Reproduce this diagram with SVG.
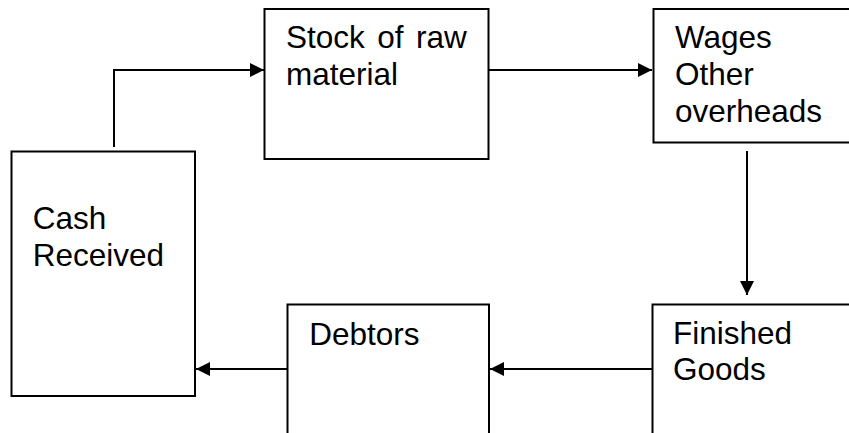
<svg xmlns="http://www.w3.org/2000/svg" width="849" height="433" viewBox="0 0 849 433">
<style>
.box{fill:#fff;stroke:#000;stroke-width:2}
.lbl{font-family:"Liberation Sans",Arial,sans-serif;font-size:31.5px;fill:#000}
.conn{fill:none;stroke:#000;stroke-width:2}
</style>
<defs>
<marker id="ah" markerUnits="userSpaceOnUse" markerWidth="14" markerHeight="14" refX="14" refY="7" orient="auto">
<path d="M0,0 L14,7 L0,14 z" fill="#000"/>
</marker>
</defs>
<rect width="849" height="433" fill="#fff"/>
<g id="cash">
<rect class="box" x="11.5" y="151.5" width="183.5" height="244.5"/>
<text class="lbl" x="32.7" y="229.3">Cash</text>
<text class="lbl" x="32.7" y="266">Received</text>
</g>
<g id="stock">
<rect class="box" x="264.5" y="9" width="224" height="150"/>
<text class="lbl" x="286" y="48.3" word-spacing="3.7">Stock of raw</text>
<text class="lbl" x="286" y="84.5">material</text>
</g>
<g id="wages">
<rect class="box" x="653.5" y="9" width="260" height="133.5"/>
<text class="lbl" x="675" y="47.5">Wages</text>
<text class="lbl" x="675" y="84.5">Other</text>
<text class="lbl" x="675" y="121.5">overheads</text>
</g>
<g id="finished">
<rect class="box" x="652.5" y="304.5" width="260" height="200"/>
<text class="lbl" x="673" y="344.3">Finished</text>
<text class="lbl" x="673" y="380">Goods</text>
</g>
<g id="debtors">
<rect class="box" x="287.5" y="304.5" width="201.5" height="200"/>
<text class="lbl" x="309.3" y="345">Debtors</text>
</g>
<g id="connectors">
<path class="conn" d="M114,147 V70 H264" marker-end="url(#ah)"/>
<path class="conn" d="M489,70 H652" marker-end="url(#ah)"/>
<path class="conn" d="M747,151 V295" marker-end="url(#ah)"/>
<path class="conn" d="M652,369 H490" marker-end="url(#ah)"/>
<path class="conn" d="M287,369 H196" marker-end="url(#ah)"/>
</g>
</svg>
